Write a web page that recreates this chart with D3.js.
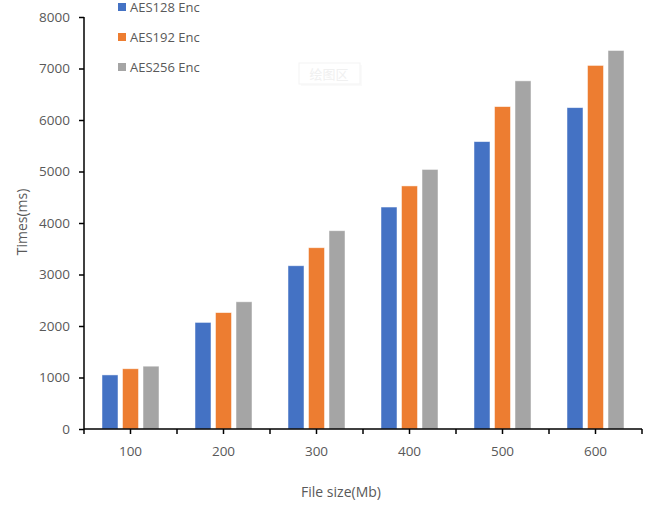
<!DOCTYPE html>
<html>
<head>
<meta charset="utf-8">
<script src="https://cdn.jsdelivr.net/npm/d3@7"></script>
<style>
  html, body { margin: 0; padding: 0; background: #fff; }
  svg { display: block; }
  text { font-family: "Open Sans", "Noto Sans", sans-serif; fill: #595959; }
</style>
</head>
<body>
<svg id="chart" width="657" height="505"></svg>
<script>
// File sizes (Mb) on the x axis
const categories = ["100", "200", "300", "400", "500", "600"];
// Series names
const seriesNames = ["AES128 Enc", "AES192 Enc", "AES256 Enc"];
// Encryption times (ms) per file size
const aes128 = [1050, 2070, 3170, 4310, 5580, 6240];
const aes192 = [1170, 2260, 3520, 4720, 6260, 7060];
const aes256 = [1220, 2470, 3850, 5040, 6760, 7350];
const yTicks = [0, 1000, 2000, 3000, 4000, 5000, 6000, 7000, 8000];
const colors = ["#4472C4", "#ED7D31", "#A5A5A5"];

const seriesValues = [aes128, aes192, aes256];

const svg = d3.select("#chart");
const plotLeft = 84, plotRight = 642, plotTop = 17, plotBottom = 429;

const x0 = d3.scaleBand().domain(categories).range([plotLeft, plotRight]).padding(0);
const x1 = d3.scaleBand().domain(seriesNames)
  .range([18, 75]).paddingInner(0.22).paddingOuter(0);
const y = d3.scaleLinear().domain([0, 8000]).range([plotBottom, plotTop]);

// faint "plot area" hover label
const hint = svg.append("g").attr("transform", "translate(299,63)");
hint.append("rect").attr("x", 2).attr("y", 2).attr("width", 61).attr("height", 21)
  .attr("fill", "#fafafa");
hint.append("rect").attr("width", 61).attr("height", 21)
  .attr("fill", "#fff").attr("stroke", "#f3f3f3");
hint.append("text").attr("x", 30).attr("y", 15.5).attr("text-anchor", "middle")
  .style("font-family", "'Noto Sans CJK SC', sans-serif")
  .style("font-size", "13px").style("fill", "#f0f0f0").text("绘图区");

// bars
const groups = svg.append("g").selectAll("g")
  .data(categories)
  .join("g")
  .attr("transform", d => `translate(${x0(d)},0)`);

groups.selectAll("rect")
  .data((d, i) => seriesNames.map((s, k) => ({ s, k, v: seriesValues[k][i] })))
  .join("rect")
  .attr("x", d => x1(d.s))
  .attr("width", x1.bandwidth())
  .attr("y", d => y(d.v))
  .attr("height", d => y(0) - y(d.v))
  .attr("fill", d => colors[d.k])
  .attr("stroke", "#ffffff")
  .attr("stroke-opacity", 0.6)
  .attr("stroke-width", 0.8);

// y axis
const yAxis = d3.axisLeft(y).tickValues(yTicks).tickSize(5).tickPadding(9)
  .tickFormat(d3.format("d"));
const yg = svg.append("g").attr("transform", `translate(${plotLeft},0)`).call(yAxis);
yg.select(".domain").attr("stroke", "#000").attr("stroke-width", 1.5)
  .attr("d", `M0,${plotTop}V${plotBottom}`);
yg.selectAll(".tick line").attr("stroke", "#000").attr("stroke-width", 1.5);
yg.selectAll(".tick text").style("font-size", "13.5px").style("fill", "#595959")
  .style("font-family", "'Open Sans', sans-serif");

// x axis: boundary ticks between groups plus centre ticks under labels
const xg = svg.append("g").attr("transform", `translate(0,${plotBottom})`);
xg.append("path").attr("d", `M${plotLeft},0H${plotRight}`)
  .attr("stroke", "#000").attr("stroke-width", 1.5).attr("fill", "none");
const bounds = categories.map(c => x0(c)).concat([plotRight]);
xg.selectAll("line.major").data(bounds).join("line")
  .attr("class", "major")
  .attr("x1", d => d).attr("x2", d => d).attr("y1", 0).attr("y2", 5)
  .attr("stroke", "#000").attr("stroke-width", 1.5);
xg.selectAll("line.minor").data(categories).join("line")
  .attr("class", "minor")
  .attr("x1", d => x0(d) + x0.bandwidth() / 2).attr("x2", d => x0(d) + x0.bandwidth() / 2)
  .attr("y1", 0).attr("y2", 5)
  .attr("stroke", "#000").attr("stroke-width", 1.5);
xg.selectAll("text").data(categories).join("text")
  .attr("x", d => x0(d) + x0.bandwidth() / 2)
  .attr("y", 27)
  .attr("text-anchor", "middle")
  .style("font-size", "13.5px")
  .text(d => d);

// axis titles
svg.append("text")
  .attr("transform", "translate(27,222) rotate(-90)")
  .attr("text-anchor", "middle")
  .style("font-size", "14px")
  .text("Times(ms)");
svg.append("text")
  .attr("x", 341).attr("y", 497)
  .attr("text-anchor", "middle")
  .style("font-size", "14px")
  .text("File size(Mb)");

// legend
const legend = svg.append("g").selectAll("g")
  .data(seriesNames)
  .join("g")
  .attr("transform", (d, i) => `translate(118,${7 + i * 30})`);
legend.append("rect").attr("x", 0).attr("y", -4).attr("width", 8).attr("height", 8)
  .attr("fill", (d, i) => colors[i]);
legend.append("text").attr("x", 12).attr("y", 4.5)
  .style("font-size", "13px")
  .text(d => d);
</script>
</body>
</html>
